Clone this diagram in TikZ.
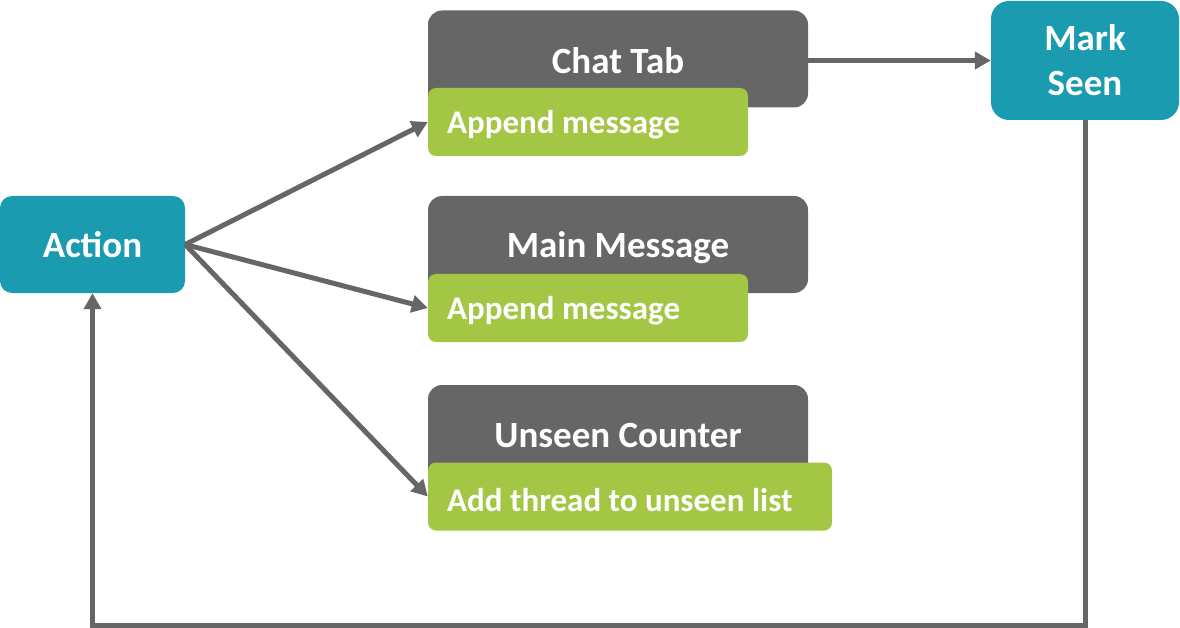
\documentclass[tikz,border=0pt]{standalone}
\usepackage{fontspec}
\setmainfont{Carlito}
\usetikzlibrary{arrows.meta}
\definecolor{tealbox}{HTML}{1A9BB0}
\definecolor{graybox}{HTML}{666666}
\definecolor{greenbox}{HTML}{A3C644}
\definecolor{linegray}{HTML}{666666}
\begin{document}
\begin{tikzpicture}[x=1pt,y=-1pt,
  tealnode/.style={fill=tealbox, draw=none, inner sep=0pt, text=white, font=\fontsize{37}{45}\selectfont\bfseries, align=center},
  graynode/.style={fill=graybox, draw=none, inner sep=0pt, rounded corners=14pt, minimum width=380pt, minimum height=97pt},
  greennode/.style={fill=greenbox, draw=none, inner sep=0pt, rounded corners=8pt, minimum height=68pt},
  headtext/.style={text=white, inner sep=0pt, font=\fontsize{37}{45}\selectfont\bfseries},
  greentext/.style={text=white, inner sep=0pt, anchor=west, font=\fontsize{33}{40}\selectfont\bfseries},
  conn/.style={draw=linegray, line width=5pt, -{Triangle[length=16pt,width=17pt]}},
]
\useasboundingbox (0,0) rectangle (1180,628);

% Action
\node[tealnode, rounded corners=12pt, minimum width=185pt, minimum height=97pt] (action) at (92.5,244.5) {Action};

% Mark Seen
\node[tealnode, rounded corners=18pt, minimum width=188pt, minimum height=119pt] (mark) at (1085,60.5) {Mark\\Seen};

% Chat Tab
\node[graynode] (chat) at (618,59) {};
\node[greennode, minimum width=320pt] (chatg) at (588,122) {};
\node[headtext] (chatt) at (618,61) {Chat Tab};
\node[greentext] (chatgt) at (447,125) {Append message};

% Main Message
\node[graynode] (main) at (618,244.5) {};
\node[greennode, minimum width=320pt] (maing) at (588,308) {};
\node[headtext] (maint) at (618,248) {Main Message};
\node[greentext] (maingt) at (447,311) {Append message};

% Unseen Counter
\node[graynode] (unseen) at (618,433.5) {};
\node[greennode, minimum width=404pt] (unseeng) at (630,496.5) {};
\node[headtext] (unseent) at (618,436) {Unseen Counter};
\node[greentext] (unseengt) at (447,500) {Add thread to unseen list};

% Connectors
\draw[conn] (action.east) -- (chatg.west);
\draw[conn] (action.east) -- (maing.west);
\draw[conn] (action.east) -- (unseeng.west);
\draw[conn] (chat.east |- mark.west) -- (mark.west);
\coordinate (br) at (mark.south |- 0,625);
\coordinate (bl) at (action.south |- 0,625);
\draw[conn] (mark.south) -- (br) -- (bl) -- (action.south);
\end{tikzpicture}
\end{document}
